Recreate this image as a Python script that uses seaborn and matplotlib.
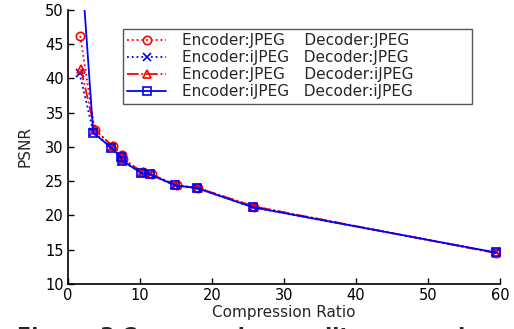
#!/usr/bin/env python3
"""
plot.py - PSNR versus compression ratio for JPEG / iJPEG encoder-decoder pairs.
"""
import matplotlib
matplotlib.use('Agg')
import matplotlib.pyplot as plt
import pandas as pd
import seaborn as sns

# -- Data -- #

# Encoder:JPEG  Decoder:JPEG
ratio_jj = [1.7, 3.7, 6.2, 7.5, 7.7, 10.4, 11.6, 15.1, 18.1, 25.9, 59.5]
psnr_jj = [46.2, 32.5, 30.1, 28.8, 28.2, 26.3, 26.0, 24.4, 24.0, 21.3, 14.5]

# Encoder:iJPEG  Decoder:JPEG
ratio_ij = [1.6, 3.5, 6.0, 7.3, 7.5, 10.2, 11.4, 14.9, 17.9, 25.7, 59.4]
psnr_ij = [40.8, 32.2, 29.9, 28.6, 28.0, 26.2, 26.0, 24.4, 24.0, 21.2, 14.6]

# Encoder:JPEG  Decoder:iJPEG
ratio_ji = [1.8, 3.7, 6.2, 7.5, 7.7, 10.4, 11.6, 15.1, 18.1, 25.9, 59.5]
psnr_ji = [41.4, 32.6, 30.1, 28.8, 28.2, 26.3, 26.0, 24.4, 24.0, 21.3, 14.5]

# Encoder:iJPEG  Decoder:iJPEG
ratio_ii = [2.1, 3.5, 6.0, 7.3, 7.5, 10.2, 11.4, 14.9, 17.9, 25.7, 59.4]
psnr_ii = [53.0, 32.1, 29.9, 28.6, 28.0, 26.2, 26.0, 24.4, 24.0, 21.2, 14.6]

LABELS = [
    'Encoder:JPEG    Decoder:JPEG',
    'Encoder:iJPEG   Decoder:JPEG',
    'Encoder:JPEG    Decoder:iJPEG',
    'Encoder:iJPEG   Decoder:iJPEG',
]

X_TICKS = [0, 10, 20, 30, 40, 50, 60]
Y_TICKS = [10, 15, 20, 25, 30, 35, 40, 45, 50]

CAPTION = 'Figure 3 Compression quality comparison between'

# -- Styles -- #

STYLES = [
    dict(color='#ff0000', linestyle=':', marker='o'),
    dict(color='#0000ff', linestyle=':', marker='x'),
    dict(color='#ff0000', linestyle='-.', marker='^'),
    dict(color='#0000ff', linestyle='-', marker='s'),
]


def main():
    sns.set_style('ticks')
    plt.rcParams['font.family'] = ['DejaVu Sans']

    fig = plt.figure(figsize=(5.14, 3.29), dpi=100)
    ax = fig.add_axes([0.1323, 0.1368, 0.8405, 0.8328])

    series = [
        (ratio_jj, psnr_jj),
        (ratio_ij, psnr_ij),
        (ratio_ji, psnr_ji),
        (ratio_ii, psnr_ii),
    ]
    for (xs, ys), label, style in zip(series, LABELS, STYLES):
        df = pd.DataFrame({'ratio': xs, 'psnr': ys})
        sns.lineplot(
            data=df, x='ratio', y='psnr', ax=ax, label=label,
            color=style['color'], linestyle=style['linestyle'],
            marker=style['marker'], markersize=6,
            markerfacecolor='none', markeredgecolor=style['color'],
            markeredgewidth=1.2, linewidth=1.3, sort=False,
        )

    ax.set_xlim(0, 60)
    ax.set_ylim(10, 50)
    ax.set_xticks(X_TICKS)
    ax.set_yticks(Y_TICKS)
    ax.tick_params(direction='in', length=4, width=1, labelsize=10.5,
                   colors='black', pad=3)
    ax.set_xlabel('Compression Ratio', fontsize=11, labelpad=1)
    ax.set_ylabel('PSNR', fontsize=11, labelpad=9)
    for side in ('top', 'right'):
        ax.spines[side].set_visible(False)
    for side in ('left', 'bottom'):
        ax.spines[side].set_color('black')
        ax.spines[side].set_linewidth(1.2)

    # Legend box spans a fixed width of the axes (fraction coordinates).
    leg = ax.legend(
        loc='upper left', bbox_to_anchor=(0.127, 0.657, 0.808, 0.274),
        mode='expand', borderaxespad=0,
        fontsize=11, handlelength=2.5, fancybox=False, framealpha=1,
        edgecolor='#555555', borderpad=0.3, labelspacing=0.13,
        handletextpad=1.1,
    )
    leg.get_frame().set_linewidth(1.0)

    # Caption below the chart, cut off by the bottom edge as in the source.
    fig.text(0.033, 0.006, CAPTION, fontsize=15, fontweight='bold',
             va='top', ha='left')

    fig.savefig('out.png', dpi=100)


if __name__ == '__main__':
    main()
